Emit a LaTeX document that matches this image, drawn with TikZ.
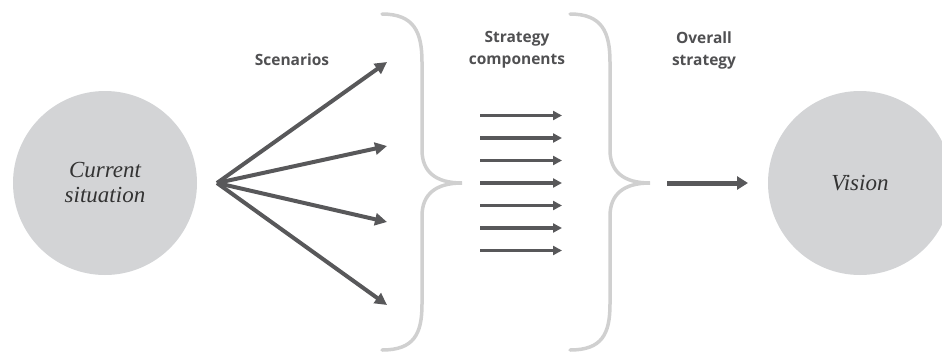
\documentclass[tikz,border=0pt]{standalone}
\usepackage{fontspec}
\newfontfamily\labfont{Open Sans}
\newfontfamily\circfont{Liberation Serif}
\usetikzlibrary{arrows.meta}

\definecolor{arrowgray}{RGB}{88,88,90}
\definecolor{discgray}{RGB}{211,212,214}
\definecolor{bracegray}{RGB}{208,208,208}
\definecolor{textgray}{RGB}{80,80,82}

\begin{document}
\begin{tikzpicture}[x=1pt, y=-1pt,
  disc/.style={circle, fill=discgray, minimum size=184pt, inner sep=0pt,
    align=center, font=\circfont\itshape\fontsize{23}{25}\selectfont, text=black!80},
  headlbl/.style={align=center, text=textgray,
    font=\labfont\bfseries\fontsize{15.5}{22}\selectfont},
  fanarrow/.style={draw=arrowgray, line width=4pt,
    -{Triangle[length=12pt, width=12pt]}},
  comparrow/.style={draw=arrowgray, line width=3.2pt,
    -{Triangle[length=9pt, width=9pt]}},
  bigarrow/.style={draw=arrowgray, line width=5pt,
    -{Triangle[length=11pt, width=13pt]}},
  bracestroke/.style={draw=bracegray, line width=3.5pt, line cap=round}]

\newcommand\CY{183}
\newcommand\DY{22.5}

\useasboundingbox (0,0) rectangle (942,351);

%% circles
\node[disc] (cur) at (105,\CY) {Current\\situation};
\node[disc] (vis) at (860,\CY) {Vision};

%% headings
\node[headlbl] (scen) at (292,60) {Scenarios};
\node[headlbl] (comp) at (517,50) {Strategy\\components};
\node[headlbl] (over) at (704,50) {Overall\\strategy};

%% scenario fan
\coordinate (fan) at (217,\CY);
\coordinate (s1) at (387,62);
\coordinate (s2) at (387,146);
\coordinate (s3) at (387,222);
\coordinate (s4) at (387,305);

\draw[fanarrow] (fan) -- (s1);
\draw[fanarrow] (fan) -- (s2);
\draw[fanarrow] (fan) -- (s3);
\draw[fanarrow] (fan) -- (s4);

%% first brace
\draw[bracestroke] (382,14) .. controls (414,14) and (422,32) .. (422,62)
  -- (422,150) .. controls (422,172) and (436,183) .. (462,183)
  .. controls (436,183) and (422,194) .. (422,216)
  -- (422,304) .. controls (422,334) and (414,350) .. (382,350);

%% strategy components
\coordinate (ca1) at (480,\CY-3*\DY); \coordinate (cb1) at (562,\CY-3*\DY);
\coordinate (ca2) at (480,\CY-2*\DY); \coordinate (cb2) at (562,\CY-2*\DY);
\coordinate (ca3) at (480,\CY-1*\DY); \coordinate (cb3) at (562,\CY-1*\DY);
\coordinate (ca4) at (480,\CY);       \coordinate (cb4) at (562,\CY);
\coordinate (ca5) at (480,\CY+1*\DY); \coordinate (cb5) at (562,\CY+1*\DY);
\coordinate (ca6) at (480,\CY+2*\DY); \coordinate (cb6) at (562,\CY+2*\DY);
\coordinate (ca7) at (480,\CY+3*\DY); \coordinate (cb7) at (562,\CY+3*\DY);

\draw[comparrow] (ca1) -- (cb1);
\draw[comparrow] (ca2) -- (cb2);
\draw[comparrow] (ca3) -- (cb3);
\draw[comparrow] (ca4) -- (cb4);
\draw[comparrow] (ca5) -- (cb5);
\draw[comparrow] (ca6) -- (cb6);
\draw[comparrow] (ca7) -- (cb7);

%% second brace
\draw[bracestroke] (570,14) .. controls (602,14) and (610,32) .. (610,62)
  -- (610,150) .. controls (610,172) and (624,183) .. (650,183)
  .. controls (624,183) and (610,194) .. (610,216)
  -- (610,304) .. controls (610,334) and (602,350) .. (570,350);

%% overall strategy
\coordinate (oa) at (667,\CY);
\coordinate (ob) at (748,\CY);
\draw[bigarrow] (oa) -- (ob);

\end{tikzpicture}
\end{document}
